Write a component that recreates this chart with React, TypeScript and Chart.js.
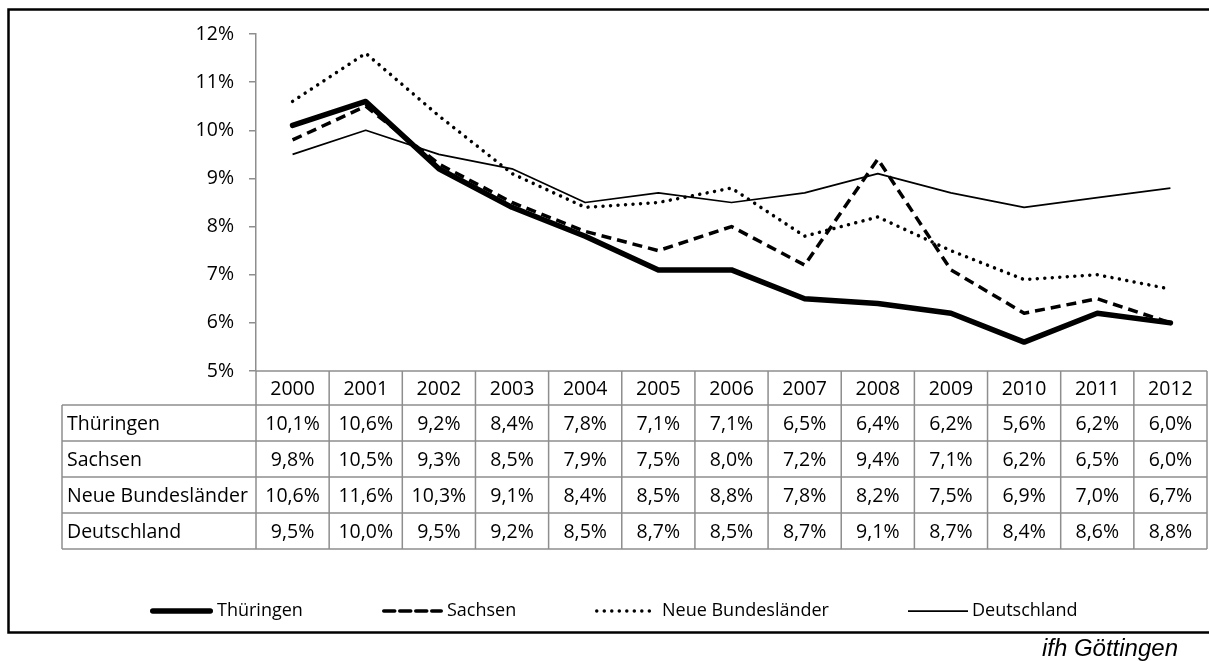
import React, { useEffect, useRef } from 'react';
import { Chart, registerables } from 'chart.js';

Chart.register(...registerables);

const years = ['2000', '2001', '2002', '2003', '2004', '2005', '2006', '2007', '2008', '2009', '2010', '2011', '2012'];
const thueringen = [10.1, 10.6, 9.2, 8.4, 7.8, 7.1, 7.1, 6.5, 6.4, 6.2, 5.6, 6.2, 6.0];
const sachsen = [9.8, 10.5, 9.3, 8.5, 7.9, 7.5, 8.0, 7.2, 9.4, 7.1, 6.2, 6.5, 6.0];
const neueBundeslaender = [10.6, 11.6, 10.3, 9.1, 8.4, 8.5, 8.8, 7.8, 8.2, 7.5, 6.9, 7.0, 6.7];
const deutschland = [9.5, 10.0, 9.5, 9.2, 8.5, 8.7, 8.5, 8.7, 9.1, 8.7, 8.4, 8.6, 8.8];
const seriesNames = ['Thüringen', 'Sachsen', 'Neue Bundesländer', 'Deutschland'];
const yMin = 5;
const yMax = 12;
const sourceNote = 'ifh Göttingen';

const FONT = '"Open Sans", "Noto Sans", sans-serif';
const GRID = '#8e8e8e';

const fmt = (v: number) => v.toFixed(1).replace('.', ',') + '%';

const seriesValues = [thueringen, sachsen, neueBundeslaender, deutschland];
const seriesStyles = [
  { width: 5.5, dash: [] as number[], cap: 'round' as CanvasLineCap },
  { width: 3.5, dash: [10, 6], cap: 'butt' as CanvasLineCap },
  { width: 3.5, dash: [0.01, 7.5], cap: 'round' as CanvasLineCap },
  { width: 1.75, dash: [] as number[], cap: 'butt' as CanvasLineCap },
];
const legendStarts = [150, 382, 595, 908];
const legendSampleLens = [63, 61, 63, 60];

const tablePlugin = {
  id: 'tableAndDecor',
  afterDraw(chart: any) {
    const ctx: CanvasRenderingContext2D = chart.ctx;
    const area = chart.chartArea;
    const xs = chart.scales.x;
    const n = years.length;
    const left = area.left;
    const right = area.right;
    const w = (right - left) / n;
    const headerTop = area.bottom;
    const headerH = 34;
    const rowH = 36;
    const headerBot = headerTop + headerH;
    const tableBot = headerBot + rowH * seriesNames.length;
    const labelLeft = 62;

    ctx.save();
    ctx.strokeStyle = GRID;
    ctx.lineWidth = 1.5;
    ctx.setLineDash([]);
    ctx.beginPath();
    ctx.moveTo(left, headerTop);
    ctx.lineTo(right, headerTop);
    for (let r = 0; r <= seriesNames.length; r++) {
      const y = headerBot + r * rowH;
      ctx.moveTo(labelLeft, y);
      ctx.lineTo(right, y);
    }
    for (let i = 0; i <= n; i++) {
      const x = left + i * w;
      ctx.moveTo(x, headerTop);
      ctx.lineTo(x, tableBot);
    }
    ctx.moveTo(labelLeft, headerBot);
    ctx.lineTo(labelLeft, tableBot);
    ctx.stroke();

    ctx.fillStyle = '#000';
    ctx.font = `19.5px ${FONT}`;
    ctx.textBaseline = 'middle';
    ctx.textAlign = 'center';
    years.forEach((yr, i) => {
      ctx.fillText(yr, xs.getPixelForValue(i), headerTop + headerH / 2 + 1);
    });
    seriesNames.forEach((name, r) => {
      const yMid = headerBot + r * rowH + rowH / 2 + 1;
      ctx.textAlign = 'left';
      ctx.fillText(name, labelLeft + 5, yMid);
      ctx.textAlign = 'center';
      seriesValues[r].forEach((v, i) => {
        ctx.fillText(fmt(v), xs.getPixelForValue(i), yMid);
      });
    });

    const ly = 611;
    ctx.font = `18px ${FONT}`;
    ctx.textAlign = 'left';
    seriesNames.forEach((name, k) => {
      const st = seriesStyles[k];
      const x0 = legendStarts[k];
      const x1 = x0 + legendSampleLens[k];
      const capRound = k !== 3;
      ctx.beginPath();
      ctx.strokeStyle = '#000';
      ctx.lineWidth = st.width;
      ctx.lineCap = capRound ? 'round' : 'butt';
      ctx.setLineDash(k === 1 ? [11, 5] : st.dash);
      ctx.moveTo(x0 + (capRound ? st.width / 2 : 0), ly);
      ctx.lineTo(x1 - (capRound ? st.width / 2 : 0), ly);
      ctx.stroke();
      ctx.setLineDash([]);
      ctx.fillText(name, x1 + 4, ly);
    });

    ctx.strokeStyle = '#000';
    ctx.lineWidth = 2.5;
    ctx.lineCap = 'butt';
    ctx.beginPath();
    ctx.rect(8.5, 9.5, 1215, 623);
    ctx.stroke();

    ctx.font = `italic 24px "Liberation Sans", Arial, sans-serif`;
    ctx.textAlign = 'right';
    ctx.textBaseline = 'alphabetic';
    ctx.fillText(sourceNote, 1178, 656);
    ctx.restore();
  },
};

export default function App() {
  const ref = useRef<HTMLCanvasElement | null>(null);
  useEffect(() => {
    if (!ref.current) return;
    const chart = new Chart(ref.current, {
      type: 'line',
      data: {
        labels: years,
        datasets: seriesNames.map((name, k) => ({
          label: name,
          data: seriesValues[k],
          borderColor: '#000',
          backgroundColor: '#000',
          borderWidth: seriesStyles[k].width,
          borderDash: seriesStyles[k].dash,
          borderCapStyle: seriesStyles[k].cap,
          borderJoinStyle: 'round',
          pointRadius: 0,
          pointHoverRadius: 0,
          tension: 0,
          fill: false,
        })),
      },
      options: {
        animation: false,
        responsive: false,
        maintainAspectRatio: false,
        events: [],
        layout: { padding: { top: 34, bottom: 291, left: 0, right: 2 } },
        plugins: { legend: { display: false }, tooltip: { enabled: false } },
        scales: {
          x: { type: 'category', display: false, offset: true },
          y: {
            min: yMin,
            max: yMax,
            afterFit: (s: any) => {
              s.width = 256;
            },
            ticks: {
              stepSize: 1,
              callback: (v: any) => v + '%',
              color: '#000',
              font: { family: FONT, size: 19.5 },
              padding: 15,
            },
            grid: {
              drawOnChartArea: false,
              drawTicks: true,
              tickLength: 7,
              color: GRID,
              lineWidth: 1.5,
            },
            border: { display: true, color: GRID, width: 1.5 },
          },
        },
      } as any,
      plugins: [tablePlugin],
    });
    return () => chart.destroy();
  }, []);
  return (
    <div style={{ position: 'absolute', left: 0, top: 0, width: 1209, height: 662, background: '#fff' }}>
      <canvas ref={ref} width={1209} height={662} style={{ display: 'block', width: 1209, height: 662 }} />
    </div>
  );
}
